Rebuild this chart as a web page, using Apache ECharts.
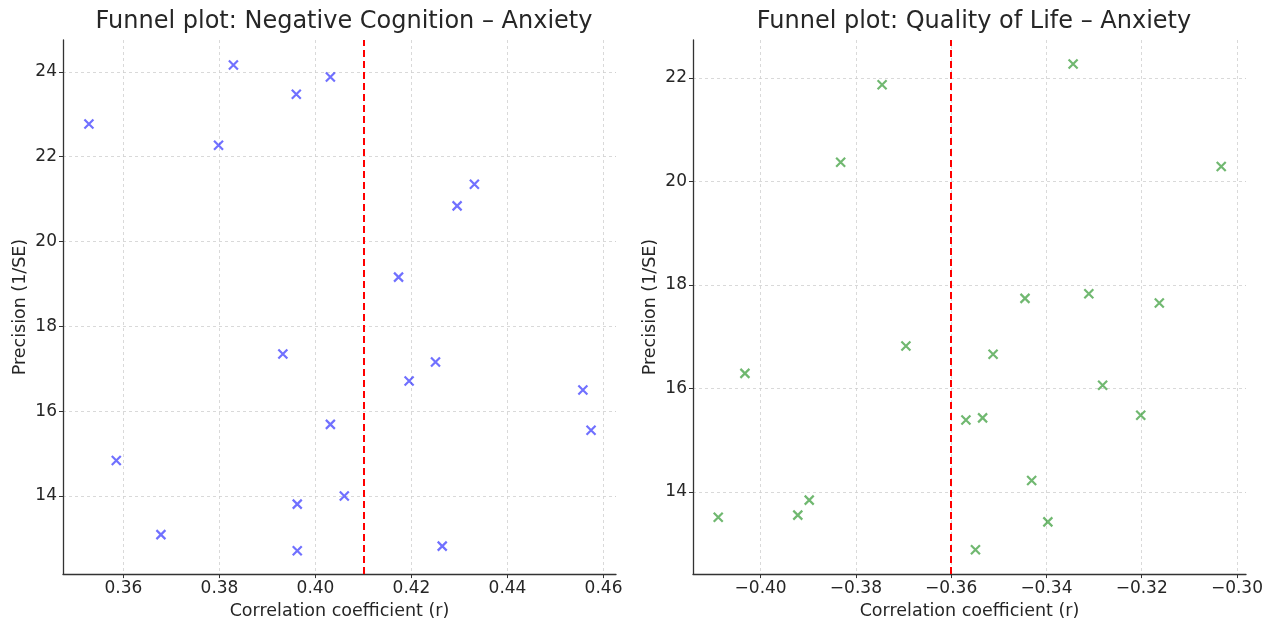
<!DOCTYPE html>
<html>
<head>
<meta charset="utf-8">
<title>Funnel plots</title>
<script src="https://cdn.jsdelivr.net/npm/echarts@6/dist/echarts.min.js"></script>
<style>
  html, body { margin: 0; padding: 0; background: #fff; }
  #chart { width: 1272px; height: 625px; }
</style>
</head>
<body>
<div id="chart"></div>
<script>
// Negative Cognition – Anxiety
const cogR = [0.3528, 0.3798, 0.3829, 0.3960, 0.4031, 0.4173, 0.4295, 0.4331, 0.3932, 0.4250,
  0.4195, 0.4557, 0.4031, 0.4574, 0.3585, 0.4060, 0.3962, 0.3678, 0.3962, 0.4264];
const cogPrec = [22.77, 22.27, 24.16, 23.47, 23.88, 19.16, 20.84, 21.35, 17.35, 17.16,
  16.71, 16.50, 15.69, 15.55, 14.84, 14.00, 13.81, 13.09, 12.71, 12.82];
const cogPooled = 0.41;

// Quality of Life – Anxiety
const qolR = [-0.3344, -0.3745, -0.3832, -0.3033, -0.3445, -0.3311, -0.3163, -0.3695, -0.3512, -0.4033,
  -0.3282, -0.3569, -0.3534, -0.3202, -0.3431, -0.3898, -0.3922, -0.4089, -0.3397, -0.3549];
const qolPrec = [22.27, 21.87, 20.37, 20.29, 17.74, 17.83, 17.65, 16.82, 16.66, 16.29,
  16.06, 15.39, 15.43, 15.48, 14.22, 13.84, 13.55, 13.51, 13.42, 12.88];
const qolPooled = -0.36;

// tick labels
const cogXTicks = [0.36, 0.38, 0.40, 0.42, 0.44, 0.46];
const cogYTicks = [14, 16, 18, 20, 22, 24];
const qolXTicks = [-0.40, -0.38, -0.36, -0.34, -0.32, -0.30];
const qolYTicks = [14, 16, 18, 20, 22];

const chart = echarts.init(document.getElementById('chart'));
const font = 'DejaVu Sans';
const xMark = 'path://M0,0L10,10M0,10L10,0';

function pairs (xs, ys) {
  return xs.map((x, i) => [x, ys[i]]);
}

function fmt (v) {
  return v.toFixed(2).replace('-', '\u2212');
}

function xAxisOf (idx, min, max, ticks) {
  return {
    type: 'value',
    gridIndex: idx,
    min: min,
    max: max,
    name: 'Correlation coefficient (r)',
    nameLocation: 'middle',
    nameGap: 26,
    nameTextStyle: { fontFamily: font, fontSize: 17.5, color: '#262626' },
    axisLine: { show: true, onZero: false, lineStyle: { color: '#333', width: 1.3 } },
    axisTick: { show: true, length: 4, customValues: ticks, lineStyle: { color: '#333' } },
    axisLabel: {
      customValues: ticks,
      formatter: fmt,
      fontFamily: font,
      fontSize: 17,
      color: '#262626',
      margin: 6
    },
    splitLine: { show: true, lineStyle: { color: '#d0d0d0', type: [3, 3], width: 0.8 } }
  };
}

function yAxisOf (idx, min, max, ticks) {
  return {
    type: 'value',
    gridIndex: idx,
    min: min,
    max: max,
    name: 'Precision (1/SE)',
    nameLocation: 'middle',
    nameGap: 34,
    nameTextStyle: { fontFamily: font, fontSize: 17.5, color: '#262626' },
    axisLine: { show: true, onZero: false, lineStyle: { color: '#333', width: 1.3 } },
    axisTick: { show: true, length: 4, customValues: ticks, lineStyle: { color: '#333' } },
    axisLabel: {
      customValues: ticks,
      fontFamily: font,
      fontSize: 17,
      color: '#262626',
      margin: 6
    },
    splitLine: { show: true, lineStyle: { color: '#d0d0d0', type: [3, 3], width: 0.8 } }
  };
}

function scatterOf (idx, data, color, pooled) {
  return {
    type: 'scatter',
    xAxisIndex: idx,
    yAxisIndex: idx,
    data: data,
    symbol: xMark,
    symbolSize: 9,
    itemStyle: { color: 'transparent', borderColor: color, borderWidth: 2.2 },
    emphasis: { disabled: true },
    markLine: {
      silent: true,
      symbol: ['none', 'none'],
      label: { show: false },
      lineStyle: { color: '#ff0000', type: [7, 4], width: 2 },
      data: [{ xAxis: pooled }]
    }
  };
}

const options = {
  backgroundColor: '#fff',
  animation: false,
  title: [
    {
      text: 'Funnel plot: Negative Cognition \u2013 Anxiety',
      left: 339, top: 5, textAlign: 'center',
      textStyle: { fontFamily: font, fontSize: 24, fontWeight: 'normal', color: '#262626' }
    },
    {
      text: 'Funnel plot: Quality of Life \u2013 Anxiety',
      left: 969, top: 5, textAlign: 'center',
      textStyle: { fontFamily: font, fontSize: 24, fontWeight: 'normal', color: '#262626' }
    }
  ],
  grid: [
    { left: 63, top: 40, width: 553, height: 538 },
    { left: 693, top: 40, width: 553, height: 538 }
  ],
  xAxis: [
    xAxisOf(0, 0.3474, 0.4626, cogXTicks),
    xAxisOf(1, -0.4142, -0.2981, qolXTicks)
  ],
  yAxis: [
    yAxisOf(0, 12.16, 24.75, cogYTicks),
    yAxisOf(1, 12.41, 22.735, qolYTicks)
  ],
  series: [
    scatterOf(0, pairs(cogR, cogPrec), 'rgba(0,0,255,0.7)', cogPooled),
    scatterOf(1, pairs(qolR, qolPrec), 'rgba(0,128,0,0.7)', qolPooled)
  ]
};

chart.setOption(options);
</script>
</body>
</html>
